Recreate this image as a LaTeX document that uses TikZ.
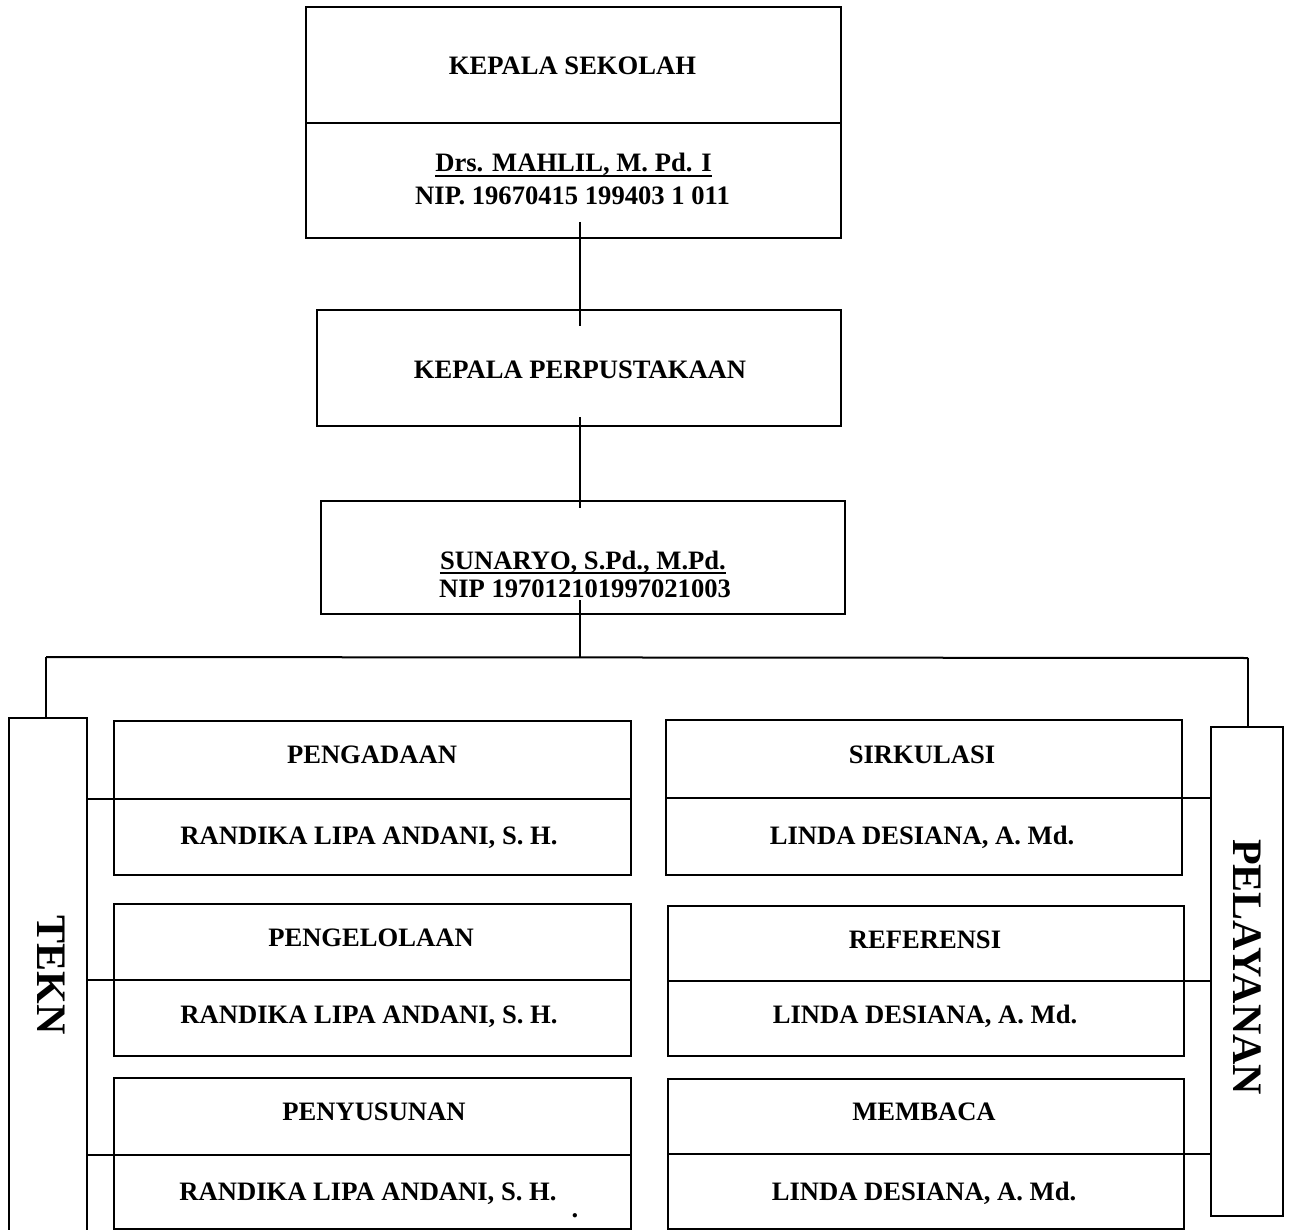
\documentclass[tikz,border=0pt]{standalone}
\usepackage{fontspec}
\setmainfont{Liberation Serif}
\begin{document}
\begin{tikzpicture}[x=1pt,y=-1pt,
  box/.style={draw,line width=2pt,inner sep=0pt,outer sep=0pt},
  lbl/.style={font=\fontsize{26.6}{30}\selectfont\bfseries,anchor=base,inner sep=0pt},
  big/.style={font=\fontsize{42}{48}\selectfont\bfseries,rotate=-90,inner sep=0pt},
  ln/.style={line width=2pt},
  uln/.style={line width=1.6pt}]
\useasboundingbox (0,0) rectangle (1290,1230);
\fill[white] (0,0) rectangle (1290,1230);

% boxes
\node[box,minimum width=535pt,minimum height=231pt] (ks) at (573.5,122.5) {};
\node[box,minimum width=524pt,minimum height=116pt] (kp) at (579,368) {};
\node[box,minimum width=524pt,minimum height=113pt] (sn) at (583,557.5) {};
\node[box,minimum width=78pt,minimum height=522pt] (tekn) at (48,979) {};
\node[box,minimum width=72pt,minimum height=489pt] (pel) at (1247,971.5) {};
\node[box,minimum width=517pt,minimum height=154pt] (b1) at (372.5,798) {};
\node[box,minimum width=517pt,minimum height=152pt] (b2) at (372.5,980) {};
\node[box,minimum width=517pt,minimum height=151pt] (b3) at (372.5,1153.5) {};
\node[box,minimum width=516pt,minimum height=155pt] (r1) at (924,797.5) {};
\node[box,minimum width=516pt,minimum height=150pt] (r2) at (926,981) {};
\node[box,minimum width=516pt,minimum height=150pt] (r3) at (926,1154) {};

% dividers
\draw[ln] (ks.west |- 0,123) -- (ks.east |- 0,123);
\draw[ln] (tekn.east |- 0,799) -- (b1.east |- 0,799);
\draw[ln] (tekn.east |- 0,980) -- (b2.east |- 0,980);
\draw[ln] (tekn.east |- 0,1155) -- (b3.east |- 0,1155);
\draw[ln] (r1.west |- 0,798) -- (pel.west |- 0,798);
\draw[ln] (r2.west |- 0,981) -- (pel.west |- 0,981);
\draw[ln] (r3.west |- 0,1154) -- (pel.west |- 0,1154);

% connectors
\coordinate (t1) at (580,222);
\coordinate (t2) at (580,326);
\coordinate (p1) at (580,417);
\coordinate (p2) at (580,508);
\coordinate (s1) at (580,600);
\coordinate (hl) at (46,657);
\coordinate (hr) at (1248,658);
\draw[ln] (t1) -- (t2);
\draw[ln] (p1) -- (p2);
\draw[ln] (s1) -- (s1 |- hl);
\draw[ln] (hl) -- (hr);
\draw[ln] (hl) -- (hl |- tekn.north);
\draw[ln] (hr) -- (hr |- pel.north);

% texts
\node[lbl] (ksT) at (572.5,75) {KEPALA SEKOLAH};
\node[lbl] (ksN) at (573.5,172) {Drs. MAHLIL, M. Pd. I};
\node[lbl] (ksP) at (572.5,205) {NIP. 19670415 199403 1 011};
\draw[uln] ([yshift=-4pt]ksN.base west) -- ([yshift=-4pt]ksN.base east);
\node[lbl] (kpT) at (580,378) {KEPALA PERPUSTAKAAN};
\node[lbl] (snN) at (583,569) {SUNARYO, S.Pd., M.Pd.};
\draw[uln] ([yshift=-4pt]snN.base west) -- ([yshift=-4pt]snN.base east);
\node[lbl] (snP) at (585,597) {NIP 197012101997021003};

\node[big] (teknT) at (51,975) {TEKN};
\node[big] (pelT) at (1247,967) {PELAYANAN};

\node[lbl] (b1T) at (372,763) {PENGADAAN};
\node[lbl] (b1N) at (369,844) {RANDIKA LIPA ANDANI, S. H.};
\node[lbl] (b2T) at (371,946) {PENGELOLAAN};
\node[lbl] (b2N) at (369,1023) {RANDIKA LIPA ANDANI, S. H.};
\node[lbl] (b3T) at (374,1120) {PENYUSUNAN};
\node[lbl] (b3N) at (368,1200) {RANDIKA LIPA ANDANI, S. H.};
\node[lbl] (dot) at (575,1217) {.};

\node[lbl] (r1T) at (922,763) {SIRKULASI};
\node[lbl] (r1N) at (922,844) {LINDA DESIANA, A. Md.};
\node[lbl] (r2T) at (925,948) {REFERENSI};
\node[lbl] (r2N) at (925,1023) {LINDA DESIANA, A. Md.};
\node[lbl] (r3T) at (924,1120) {MEMBACA};
\node[lbl] (r3N) at (924,1200) {LINDA DESIANA, A. Md.};
\end{tikzpicture}
\end{document}
